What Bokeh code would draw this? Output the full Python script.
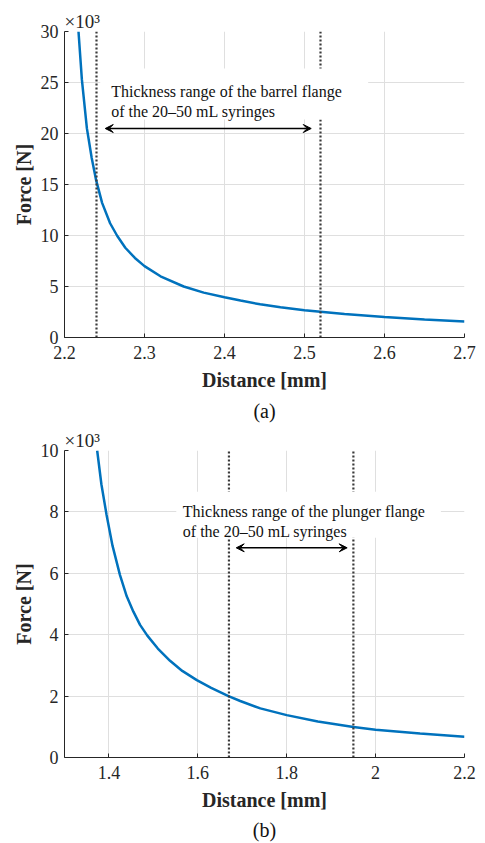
from bokeh.plotting import figure
from bokeh.layouts import column
from bokeh.models import Label, Arrow, VeeHead, FixedTicker, CustomJSTickFormatter, Range1d, Title
from bokeh.embed import file_html
from bokeh.resources import INLINE

# ---------------- data (force in units of 10^3 N) ----------------
barrel_distance_mm = [2.2175, 2.2217, 2.228, 2.234, 2.2396, 2.247, 2.257, 2.266, 2.276, 2.288,
                      2.30, 2.32, 2.349, 2.374, 2.40, 2.42, 2.4446, 2.47, 2.50, 2.52,
                      2.55, 2.60, 2.65, 2.70]
barrel_force_k = [30.0, 25.3, 20.5, 17.6, 15.4, 13.2, 11.2, 9.95, 8.8, 7.8,
                  7.0, 6.0, 5.0, 4.4, 3.95, 3.62, 3.25, 2.96, 2.68, 2.53,
                  2.30, 2.0, 1.77, 1.58]
barrel_flange_range_mm = [2.24, 2.52]

plunger_distance_mm = [1.3735, 1.383, 1.3947, 1.408, 1.4247, 1.44, 1.455, 1.47, 1.4864, 1.51,
                       1.5375, 1.565, 1.5977, 1.63, 1.669, 1.6954, 1.7406, 1.80, 1.87, 1.95,
                       2.00, 2.10, 2.20]
plunger_force_k = [10.0, 8.9, 7.9, 6.9, 5.95, 5.25, 4.75, 4.32, 3.97, 3.55,
                   3.15, 2.82, 2.52, 2.27, 2.0, 1.84, 1.6, 1.38, 1.17, 0.99,
                   0.905, 0.78, 0.675]
plunger_flange_range_mm = [1.67, 1.95]

top_xticks = [2.2, 2.3, 2.4, 2.5, 2.6, 2.7]
top_yticks = [0, 5, 10, 15, 20, 25, 30]
bot_xticks = [1.4, 1.6, 1.8, 2.0, 2.2]
bot_yticks = [0, 2, 4, 6, 8, 10]

top_text = ["Thickness range of the barrel flange", "of the 20\u201350 mL syringes"]
bot_text = ["Thickness range of the plunger flange", "of the 20\u201350 mL syringes"]

SERIF = "Liberation Serif"
AX = "#262626"
BLUE = "#0072BD"
GRID = "#dfdfdf"
DOT = "#3a3a3a"

fmt_code = "return Number(tick.toFixed(2)).toString();"


def make_panel(xr, yr, xticks, yticks, xs, ys, ranges, fh, btop, bbot,
               box, txt_x, txt_y, lines, arr, caption, cap_standoff):
    p = figure(frame_width=400, frame_height=fh,
               x_range=Range1d(*xr), y_range=Range1d(*yr),
               min_border_left=64, min_border_right=12,
               min_border_top=btop, min_border_bottom=bbot,
               output_backend="svg", toolbar_location=None,
               background_fill_color="white", border_fill_color="white")
    p.outline_line_color = None
    for ax, ticks in ((p.xaxis[0], xticks), (p.yaxis[0], yticks)):
        ax.ticker = FixedTicker(ticks=ticks)
        ax.formatter = CustomJSTickFormatter(code=fmt_code)
        ax.major_tick_in = 4
        ax.major_tick_out = 0
        ax.minor_tick_line_color = None
        ax.axis_line_color = AX
        ax.major_tick_line_color = AX
        ax.major_label_text_font = SERIF
        ax.major_label_text_font_size = "18px"
        ax.major_label_text_color = AX
        ax.axis_label_text_font = SERIF
        ax.axis_label_text_font_style = "bold"
        ax.axis_label_text_font_size = "20px"
        ax.axis_label_text_color = AX
    p.xaxis.major_label_standoff = 8
    p.yaxis.major_label_standoff = 6
    p.xaxis.axis_label_standoff = 7
    p.yaxis.axis_label_standoff = 3
    p.xaxis.axis_label = "Distance [mm]"
    p.yaxis.axis_label = "Force [N]"
    p.grid.grid_line_color = GRID
    p.grid.grid_line_width = 1

    p.line(xs, ys, line_color=BLUE, line_width=2.5)
    p.segment(x0=ranges, y0=[yr[0]] * len(ranges), x1=ranges, y1=[yr[1]] * len(ranges),
              line_color=DOT, line_width=2.2, line_dash="2 2")
    # white background of the text box
    p.quad(left=[box[0]], right=[box[1]], bottom=[box[2]], top=[box[3]],
           fill_color="white", line_color=None)
    for i, t in enumerate(lines):
        p.add_layout(Label(x=txt_x, y=txt_y[i], text=t, text_font=SERIF,
                           text_font_size="16px", text_color="#111111",
                           text_baseline="alphabetic", text_align="left"))
    p.add_layout(Arrow(start=VeeHead(size=8, line_color="black", fill_color="black", line_width=1),
                       end=VeeHead(size=8, line_color="black", fill_color="black", line_width=1),
                       x_start=arr[0], x_end=arr[1], y_start=arr[2], y_end=arr[2],
                       line_color="black", line_width=1.6))
    # exponent label above the frame
    p.add_layout(Title(text="\u00d710\u00b3", align="left", offset=0, standoff=0,
                       text_font=SERIF, text_font_size="19px", text_font_style="normal",
                       text_color=AX), "above")
    # caption below the x axis label
    p.add_layout(Title(text=caption, align="center", standoff=cap_standoff,
                       text_font=SERIF, text_font_size="20px", text_font_style="normal",
                       text_color="#111111"), "below")
    return p


p1 = make_panel((2.2, 2.7), (0, 30), top_xticks, top_yticks,
                barrel_distance_mm, barrel_force_k, barrel_flange_range_mm,
                306, 31, 90,
                (2.2446, 2.5796, 21.37, 26.37), 2.2584, (24.12, 22.16), top_text,
                (2.2509, 2.5084, 20.49), "(a)", 9)
p2 = make_panel((1.3, 2.2), (0, 10), bot_xticks, bot_yticks,
                plunger_distance_mm, plunger_force_k, plunger_flange_range_mm,
                307, 16, 78,
                (1.5515, 2.1469, 7.16, 8.66), 1.5662, (8.02, 7.37), bot_text,
                (1.6864, 1.936, 6.83), "(b)", 6)

layout = column(p1, p2)
open("out.html", "w").write(file_html(layout, INLINE))
